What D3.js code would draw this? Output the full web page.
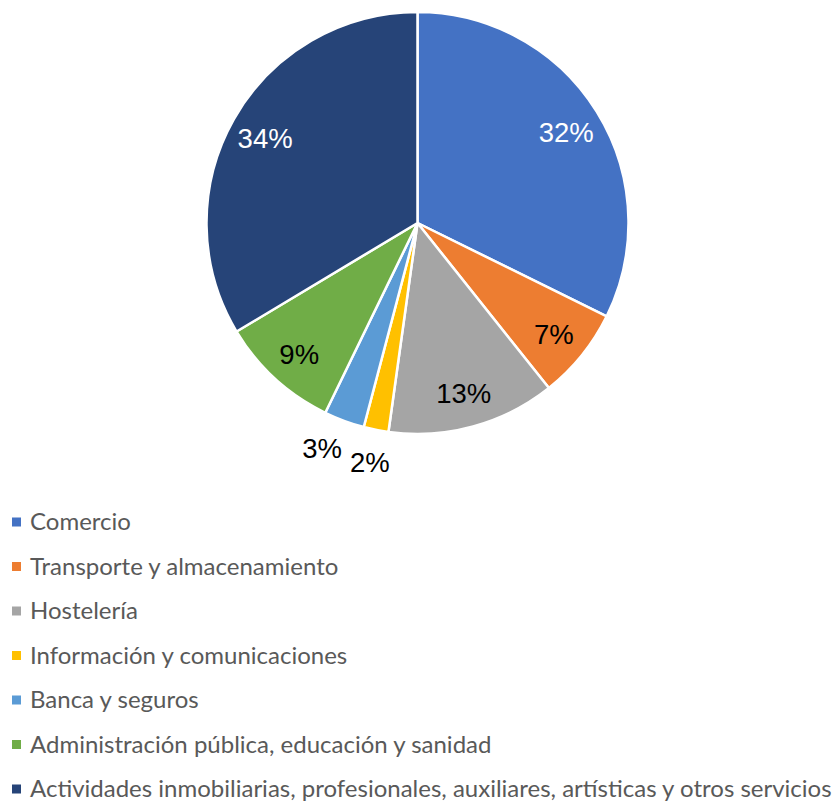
<!DOCTYPE html>
<html>
<head>
<meta charset="utf-8">
<script src="https://cdn.jsdelivr.net/npm/d3@7"></script>
<style>
  body { margin: 0; background: #fff; }
  svg { display: block; }
</style>
</head>
<body>
<svg id="chart" width="837" height="801"></svg>
<script>
// Data
const categories = [
    "Comercio",
    "Transporte y almacenamiento",
    "Hostelería",
    "Información y comunicaciones",
    "Banca y seguros",
    "Administración pública, educación y sanidad",
    "Actividades inmobiliarias, profesionales, auxiliares, artísticas y otros servicios"
];
const shares = [32.3, 7.0, 12.9, 1.9, 3.1, 9.2, 33.6];
const colors = ["#4472C4", "#ED7D31", "#A5A5A5", "#FFC000", "#5B9BD5", "#70AD47", "#264478"];

const svg = d3.select("#chart");

// Pie geometry
const cx = 417.5, cy = 223, radius = 211;
const outR = radius * 1.15;

const pie = d3.pie().sort(null).value(d => d.value);
const arc = d3.arc().innerRadius(0).outerRadius(radius);
const labelArc = d3.arc().innerRadius(radius * 0.83).outerRadius(radius * 0.83);
const outsideArc = d3.arc().innerRadius(outR).outerRadius(outR);

const data = categories.map((c, i) => ({ name: c, value: shares[i], color: colors[i] }));
const arcs = pie(data);
const total = d3.sum(shares);
const isSmall = d => d.data.value / total < 0.04;

const g = svg.append("g").attr("transform", `translate(${cx},${cy})`);

g.selectAll("path.slice")
    .data(arcs)
    .enter()
    .append("path")
    .attr("class", "slice")
    .attr("d", arc)
    .attr("fill", d => d.data.color)
    .attr("stroke", "#fff")
    .attr("stroke-width", 2.5)
    .attr("stroke-linejoin", "round");

// Data labels
const labels = g.selectAll("text.label")
    .data(arcs)
    .enter()
    .append("text")
    .attr("class", "label")
    .attr("text-anchor", "middle")
    .attr("dy", "0.42em")
    .style("font-family", "'Liberation Sans', Arial, sans-serif")
    .style("font-size", "27.5px")
    .attr("fill", d => {
        if (isSmall(d)) return "#000";
        return d3.lab(d.data.color).l < 55 ? "#fff" : "#000";
    })
    .text(d => Math.round(d.data.value / total * 100) + "%");

// initial positions
labels.each(function(d) {
    const p = (isSmall(d) ? outsideArc : labelArc).centroid(d);
    d.lx = p[0];
    d.ly = p[1];
    d.w = this.getComputedTextLength();
});

// push overlapping outside labels apart: the later (further clockwise) one
// slides left along the outer circle
const outside = arcs.filter(isSmall);
for (let i = 1; i < outside.length; i++) {
    const a = outside[i - 1], b = outside[i];
    const minGap = (a.w + b.w) / 2 + 8;
    if (Math.abs(a.ly - b.ly) < 30 && a.lx - b.lx < minGap) {
        b.lx = a.lx - minGap;
        b.ly = Math.sqrt(Math.max(0, outR * outR - b.lx * b.lx));
    }
}

labels.attr("transform", d => `translate(${d.lx},${d.ly})`);

// Legend
const legendY = d3.scalePoint()
    .domain(categories)
    .range([522, 789]);

const legend = svg.append("g").attr("class", "legend");

const item = legend.selectAll("g.item")
    .data(data)
    .enter()
    .append("g")
    .attr("class", "item")
    .attr("transform", d => `translate(0,${legendY(d.name)})`);

item.append("rect")
    .attr("x", 12)
    .attr("y", -4.5)
    .attr("width", 9)
    .attr("height", 9)
    .attr("fill", d => d.color);

item.append("text")
    .attr("x", 30)
    .attr("dy", "0.35em")
    .style("font-family", "Lato, sans-serif")
    .style("font-size", "24px")
    .attr("fill", "#595959")
    .text(d => d.name);
</script>
</body>
</html>
